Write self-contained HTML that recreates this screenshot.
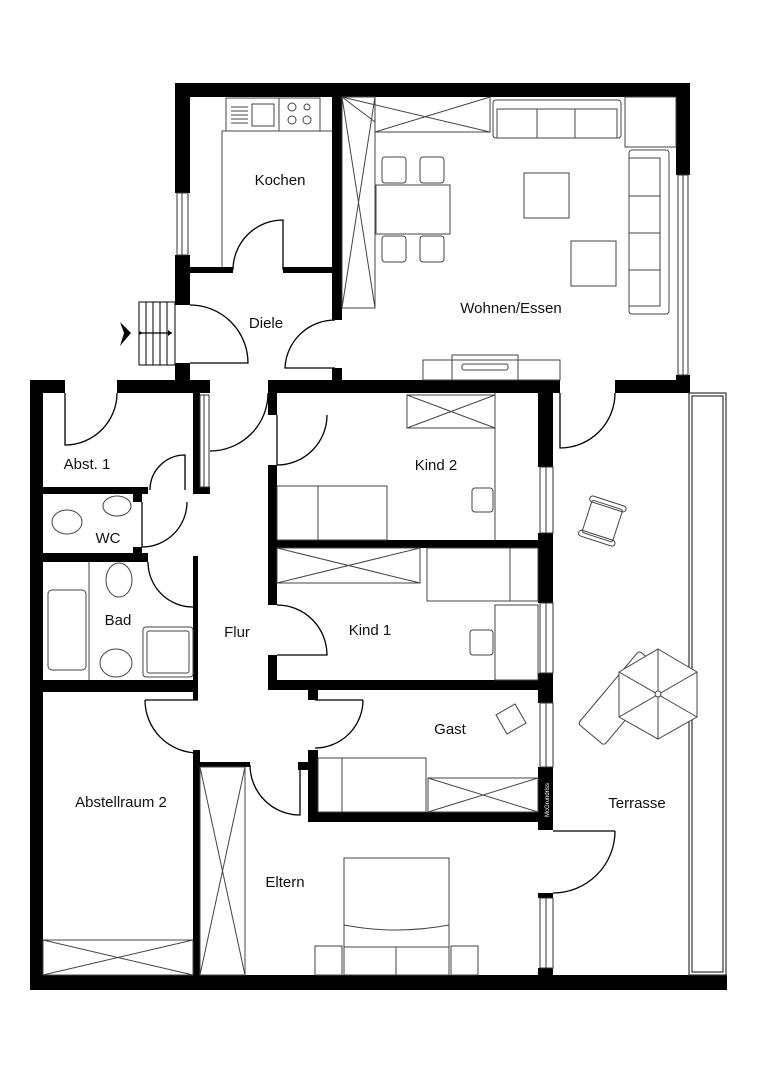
<!DOCTYPE html>
<html><head><meta charset="utf-8"><style>
html,body{margin:0;padding:0;background:#fff;}
svg{display:block}
text{font-family:"Liberation Sans",sans-serif;font-size:15px;fill:#111}
</style></head><body>
<svg width="763" height="1080" viewBox="0 0 763 1080" xmlns="http://www.w3.org/2000/svg">
<rect width="763" height="1080" fill="#fff"/>
<g fill="#000">
<rect x="175" y="83" width="515" height="14"/>
<rect x="175" y="83" width="15" height="110"/>
<rect x="175" y="255" width="15" height="50"/>
<rect x="175" y="363" width="15" height="30"/>
<rect x="676" y="83" width="14" height="92"/>
<rect x="676" y="375" width="14" height="18"/>
<rect x="332" y="97" width="10" height="223"/>
<rect x="332" y="368" width="10" height="14"/>
<rect x="190" y="267" width="43" height="6"/>
<rect x="283" y="267" width="49" height="6"/>
<rect x="30" y="380" width="35" height="13"/>
<rect x="117" y="380" width="93" height="13"/>
<rect x="268" y="380" width="292" height="13"/>
<rect x="615" y="380" width="75" height="13"/>
<rect x="30" y="380" width="13" height="610"/>
<rect x="30" y="975" width="697" height="15"/>
<rect x="193" y="393" width="7" height="100"/>
<rect x="193" y="487" width="17" height="7"/>
<rect x="43" y="487" width="105" height="7"/>
<rect x="133" y="494" width="9" height="8"/>
<rect x="43" y="553" width="105" height="9"/>
<rect x="133" y="547" width="9" height="8"/>
<rect x="193" y="556" width="5" height="136"/>
<rect x="43" y="680" width="155" height="12"/>
<rect x="193" y="692" width="5" height="8"/>
<rect x="193" y="750" width="7" height="227"/>
<rect x="198" y="762" width="52" height="5"/>
<rect x="298" y="762" width="20" height="8"/>
<rect x="268" y="393" width="9" height="22"/>
<rect x="268" y="465" width="9" height="140"/>
<rect x="268" y="655" width="9" height="35"/>
<rect x="277" y="540" width="263" height="8"/>
<rect x="268" y="680" width="272" height="10"/>
<rect x="308" y="680" width="10" height="20"/>
<rect x="308" y="750" width="10" height="72"/>
<rect x="318" y="812" width="222" height="10"/>
<rect x="538" y="393" width="15" height="74"/>
<rect x="538" y="533" width="15" height="70"/>
<rect x="538" y="673" width="15" height="30"/>
<rect x="538" y="767" width="15" height="63"/>
<rect x="538" y="893" width="15" height="5"/>
<rect x="538" y="968" width="15" height="9"/>
</g>
<g fill="#fff" stroke="#333" stroke-width="1">
<rect x="177" y="193" width="11" height="62"/>
<rect x="678" y="175" width="10" height="200"/>
<rect x="200" y="395" width="9" height="92"/>
<rect x="540" y="467" width="13" height="66"/>
<rect x="540" y="603" width="13" height="70"/>
<rect x="540" y="703" width="13" height="64"/>
<rect x="540" y="898" width="13" height="70"/>
</g>
<g stroke="#333" stroke-width="1">
<line x1="182" y1="193" x2="182" y2="255"/><line x1="683" y1="175" x2="683" y2="375"/>
<line x1="204" y1="395" x2="204" y2="487"/><line x1="546" y1="467" x2="546" y2="533"/>
<line x1="546" y1="603" x2="546" y2="673"/><line x1="546" y1="703" x2="546" y2="767"/>
<line x1="546" y1="898" x2="546" y2="968"/>
</g>
<text x="549" y="800" transform="rotate(-90 549 800)" style="font-size:6px;fill:#fff" text-anchor="middle">McGrundriss</text>
<g fill="none" stroke="#333" stroke-width="1.2">
<rect x="689" y="393" width="37" height="582"/>
<rect x="692" y="396" width="31" height="576"/>
</g>
<g fill="none" stroke="#000" stroke-width="1.3">
<path d="M233,270 A50,50 0 0 1 283,220 L283,270"/>
<path d="M190,305 A58,58 0 0 1 248,363 L190,363"/>
<path d="M335,320 A50,50 0 0 0 285,368 L335,368"/>
<path d="M117,393 A52,52 0 0 1 65,445 L65,393"/>
<path d="M268,393 A58,58 0 0 1 210,451"/>
<path d="M327,415 A50,50 0 0 1 277,465 L277,415"/>
<path d="M150,490 A35,35 0 0 1 185,455 L185,490"/>
<path d="M187,502 A45,45 0 0 1 142,547 L142,502"/>
<path d="M148,562 A45,45 0 0 0 193,607"/>
<path d="M277,605 A50,50 0 0 1 327,655 L277,655"/>
<path d="M145,700 A53,53 0 0 0 198,753 M145,700 L198,700"/>
<path d="M363,700 A48,48 0 0 1 315,748 M315,700 L363,700"/>
<path d="M250,765 A50,50 0 0 0 300,815 L300,765"/>
<path d="M615,393 A55,55 0 0 1 560,448 L560,393"/>
<path d="M615,831 A62,62 0 0 1 553,893 M553,831 L615,831"/>
</g>
<g fill="none" stroke="#000" stroke-width="1">
<rect x="139" y="302" width="36" height="63"/>
<line x1="146" y1="302" x2="146" y2="365"/><line x1="153" y1="302" x2="153" y2="365"/>
<line x1="160" y1="302" x2="160" y2="365"/><line x1="167" y1="302" x2="167" y2="365"/>
<line x1="140" y1="333" x2="172" y2="333" stroke-width="1.3"/>
</g>
<polygon points="172,333 168,330 168,336" fill="#000"/>
<circle cx="140" cy="333" r="1.5" fill="#000"/>
<polygon points="120,322 131,333 120,346 124,333" fill="#000"/>
<g fill="none" stroke="#444" stroke-width="1">
<rect x="226" y="98" width="94" height="33"/><line x1="279" y1="98" x2="279" y2="131"/>
<rect x="252" y="104" width="22" height="22"/>
<line x1="231" y1="107" x2="248" y2="107"/><line x1="231" y1="111" x2="248" y2="111"/><line x1="231" y1="115" x2="248" y2="115"/><line x1="231" y1="119" x2="248" y2="119"/><line x1="231" y1="123" x2="248" y2="123"/>
<circle cx="292" cy="107" r="4"/><circle cx="307" cy="107" r="3"/><circle cx="292" cy="120" r="4"/><circle cx="307" cy="120" r="4"/>
<polyline points="222,268 222,131 332,131"/>
<rect x="342" y="97" width="33" height="211"/>
<polyline points="375,132 490,132 490,97"/>
<path d="M342,97 L375,308 M375,97 L342,308 M342,97 L490,132 M375,132 L490,97 M342,97 L375,122 L375,132"/>
<rect x="493" y="100" width="128" height="38" rx="3"/>
<rect x="497" y="109" width="120" height="29"/>
<line x1="537" y1="109" x2="537" y2="138"/><line x1="575" y1="109" x2="575" y2="138"/>
<rect x="625" y="97" width="51" height="50"/>
<rect x="629" y="150" width="40" height="164" rx="3"/>
<rect x="629" y="158" width="31" height="148"/>
<line x1="629" y1="196" x2="660" y2="196"/><line x1="629" y1="233" x2="660" y2="233"/><line x1="629" y1="270" x2="660" y2="270"/>
<rect x="376" y="185" width="74" height="49"/>
<rect x="382" y="157" width="24" height="26" rx="3"/><rect x="420" y="157" width="24" height="26" rx="3"/>
<rect x="382" y="236" width="24" height="26" rx="3"/><rect x="420" y="236" width="24" height="26" rx="3"/>
<rect x="524" y="173" width="45" height="45"/><rect x="571" y="241" width="45" height="45"/>
<rect x="423" y="360" width="137" height="20"/><rect x="452" y="355" width="66" height="25"/>
<rect x="462" y="364" width="46" height="6" rx="2"/>
<rect x="407" y="395" width="88" height="33"/><path d="M407,395 L495,428 M495,395 L407,428"/>
<line x1="495" y1="393" x2="495" y2="540"/>
<rect x="277" y="486" width="110" height="54"/><line x1="318" y1="486" x2="318" y2="540"/>
<rect x="472" y="488" width="21" height="24" rx="3"/>
<rect x="277" y="548" width="143" height="35"/><path d="M277,548 L420,583 M420,548 L277,583"/>
<rect x="427" y="548" width="111" height="53"/><line x1="510" y1="548" x2="510" y2="601"/>
<rect x="495" y="605" width="43" height="75"/>
<rect x="470" y="630" width="23" height="25" rx="3"/>
<rect x="318" y="758" width="108" height="54"/><line x1="342" y1="758" x2="342" y2="812"/>
<rect x="428" y="778" width="110" height="34"/><path d="M428,778 L538,812 M538,778 L428,812"/>
<rect x="500" y="708" width="22" height="22" transform="rotate(-30 511 719)"/>
<rect x="200" y="767" width="45" height="208"/><path d="M200,767 L245,975 M245,767 L200,975"/>
<rect x="344" y="858" width="105" height="117"/>
<path d="M344,925 Q396,935 449,925"/>
<line x1="344" y1="947" x2="449" y2="947"/><line x1="396" y1="947" x2="396" y2="975"/>
<rect x="315" y="946" width="27" height="29"/><rect x="451" y="946" width="27" height="29"/>
<rect x="43" y="940" width="150" height="35"/><path d="M43,940 L193,975 M193,940 L43,975"/>
<ellipse cx="67" cy="522" rx="15" ry="12"/><ellipse cx="117" cy="506" rx="14" ry="10"/>
<line x1="89" y1="562" x2="89" y2="680"/>
<rect x="48" y="590" width="38" height="80" rx="4"/>
<ellipse cx="119" cy="580" rx="13" ry="17"/>
<ellipse cx="116" cy="663" rx="16" ry="14"/>
<rect x="143" y="627" width="50" height="50" rx="3"/><rect x="147" y="631" width="42" height="42" rx="2"/>
<g transform="rotate(18 602 522)"><rect x="586" y="504" width="32" height="34" rx="2"/><rect x="583" y="500" width="38" height="6" rx="3"/><rect x="583" y="536" width="38" height="6" rx="3"/></g>
<g transform="rotate(-50 620 700)"><rect x="575" y="683" width="95" height="34" rx="3"/><line x1="640" y1="683" x2="640" y2="717"/></g>
<polygon points="658,649 697,672 697,717 658,739 619,717 619,672" fill="#fff"/>
<path d="M658,649 L658,739 M697,672 L619,717 M697,717 L619,672"/>
<circle cx="658" cy="694" r="3" fill="#fff"/>
</g>
<text x="280" y="185" text-anchor="middle">Kochen</text>
<text x="266" y="328" text-anchor="middle">Diele</text>
<text x="511" y="313" text-anchor="middle">Wohnen/Essen</text>
<text x="87" y="469" text-anchor="middle">Abst. 1</text>
<text x="108" y="543" text-anchor="middle">WC</text>
<text x="118" y="625" text-anchor="middle">Bad</text>
<text x="237" y="637" text-anchor="middle">Flur</text>
<text x="436" y="470" text-anchor="middle">Kind 2</text>
<text x="370" y="635" text-anchor="middle">Kind 1</text>
<text x="450" y="734" text-anchor="middle">Gast</text>
<text x="637" y="808" text-anchor="middle">Terrasse</text>
<text x="121" y="807" text-anchor="middle">Abstellraum 2</text>
<text x="285" y="887" text-anchor="middle">Eltern</text>
</svg>
</body></html>
